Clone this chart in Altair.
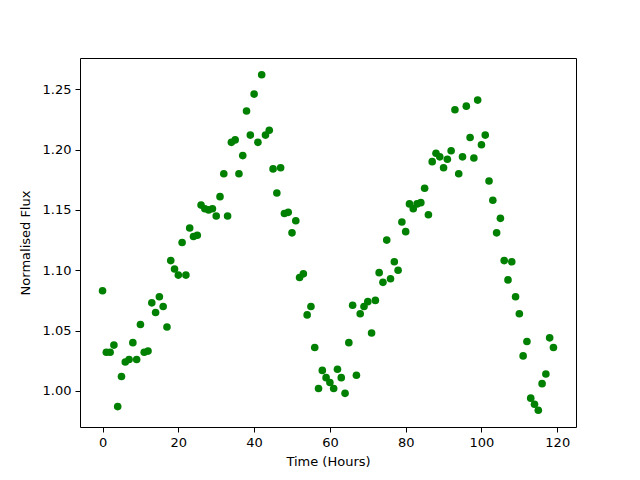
import altair as alt
import pandas as pd

time_hours = list(range(120))
flux = [
    1.083, 1.032, 1.032, 1.038, 0.987, 1.012, 1.024, 1.026, 1.040, 1.026,
    1.055, 1.032, 1.033, 1.073, 1.065, 1.078, 1.070, 1.053, 1.108, 1.101,
    1.096, 1.123, 1.096, 1.135, 1.128, 1.129, 1.154, 1.151, 1.150, 1.151,
    1.145, 1.161, 1.180, 1.145, 1.206, 1.208, 1.180, 1.195, 1.232, 1.212,
    1.246, 1.206, 1.262, 1.212, 1.216, 1.184, 1.164, 1.185, 1.147, 1.148,
    1.131, 1.141, 1.094, 1.097, 1.063, 1.070, 1.036, 1.002, 1.017, 1.011,
    1.007, 1.002, 1.018, 1.011, 0.998, 1.040, 1.071, 1.013, 1.064, 1.070,
    1.074, 1.048, 1.075, 1.098, 1.090, 1.125, 1.093, 1.107, 1.100, 1.140,
    1.132, 1.155, 1.151, 1.155, 1.156, 1.168, 1.146, 1.190, 1.197, 1.194,
    1.185, 1.192, 1.199, 1.233, 1.180, 1.194, 1.236, 1.210, 1.193, 1.241,
    1.204, 1.212, 1.174, 1.158, 1.131, 1.143, 1.108, 1.092, 1.107, 1.078,
    1.064, 1.029, 1.041, 0.994, 0.989, 0.984, 1.006, 1.014, 1.044, 1.036,
]

x_ticks = [0, 20, 40, 60, 80, 100, 120]
y_ticks = [1.00, 1.05, 1.10, 1.15, 1.20, 1.25]

df = pd.DataFrame({"t": time_hours, "f": flux})

xr = max(time_hours) - min(time_hours)
yr = max(flux) - min(flux)
x_dom = [min(time_hours) - 0.05 * xr, max(time_hours) + 0.05 * xr]
y_dom = [min(flux) - 0.05 * yr, max(flux) + 0.05 * yr]

axis_common = dict(
    grid=False,
    domain=False,
    tickColor="black",
    tickSize=5,
    tickWidth=1,
    labelFont="DejaVu Sans",
    labelFontSize=13,
    labelColor="black",
    labelPadding=4,
    titleFont="DejaVu Sans",
    titleFontSize=13,
    titleFontWeight="normal",
    titleColor="black",
)

chart = (
    alt.Chart(df)
    .mark_circle(size=58, opacity=1, color="#008000")
    .encode(
        x=alt.X(
            "t:Q",
            scale=alt.Scale(domain=x_dom, nice=False, zero=False),
            axis=alt.Axis(values=x_ticks, title="Time (Hours)", titlePadding=6, **axis_common),
        ),
        y=alt.Y(
            "f:Q",
            scale=alt.Scale(domain=y_dom, nice=False, zero=False),
            axis=alt.Axis(values=y_ticks, format=".2f", title="Normalised Flux", titlePadding=10, **axis_common),
        ),
    )
    .properties(
        width=496,
        height=369,
        autosize=alt.AutoSizeParams(type="none"),
        padding={"left": 72, "top": 50, "right": 48, "bottom": 45},
    )
    .configure(background="white")
    .configure_view(stroke="black", strokeWidth=1)
)

chart.save("out.html", embed_options={"renderer": "svg", "actions": False})
